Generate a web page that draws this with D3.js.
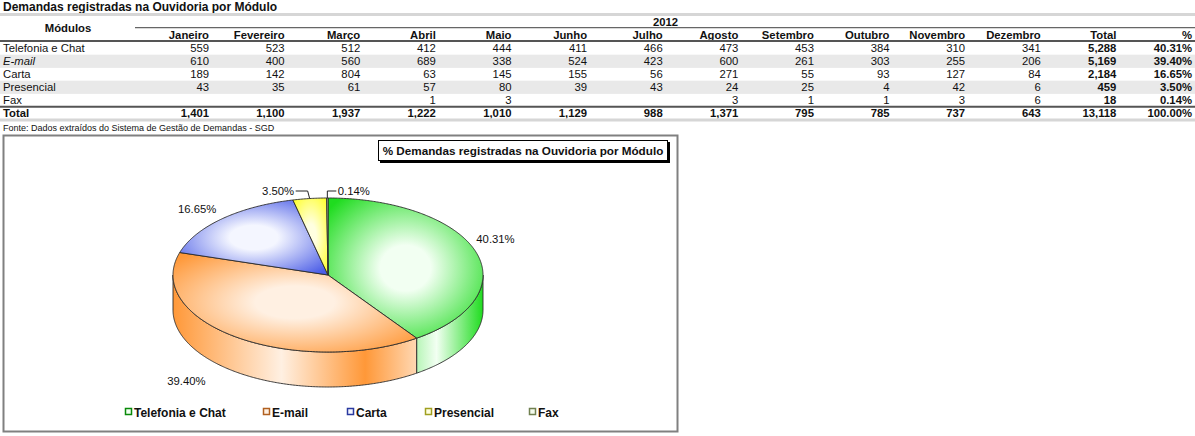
<!DOCTYPE html>
<html><head><meta charset="utf-8">
<script src="https://cdn.jsdelivr.net/npm/d3@7"></script>
<style>body{margin:0;background:#fff;overflow:hidden} text{font-family:"Liberation Sans",Arial,sans-serif;fill:#111}</style>
</head><body><svg id="c" width="1195" height="436"></svg>
<script>
// ---------- DATA ----------
const tableTitle = "Demandas registradas na Ouvidoria por Módulo";
const chartTitle = "% Demandas registradas na Ouvidoria por Módulo";
const sourceNote = "Fonte: Dados extraídos do Sistema de Gestão de Demandas - SGD";
const yearLabel = "2012";
const months = ["Janeiro","Fevereiro","Março","Abril","Maio","Junho","Julho","Agosto","Setembro","Outubro","Novembro","Dezembro"];
const modules = ["Telefonia e Chat","E-mail","Carta","Presencial","Fax"];
const telefonia  = [559,523,512,412,444,411,466,473,453,384,310,341];
const email      = [610,400,560,689,338,524,423,600,261,303,255,206];
const carta      = [189,142,804,63,145,155,56,271,55,93,127,84];
const presencial = [43,35,61,57,80,39,43,24,25,4,42,6];
const fax        = [null,null,null,1,3,null,null,3,1,1,3,6];
const seriesValues = [telefonia,email,carta,presencial,fax];

// ---------- STYLE ----------
const baseCol  = ["#1fdc1f","#ff9838","#4a5ce6","#ffff30","#b8d8a0"];
const lightCol = ["#f2fff2","#fff0e2","#f4f6ff","#ffffe0","#f4fbee"];
const edgeCol  = ["#0a8a0a","#b06020","#2a3aa0","#a0a020","#708050"];
const FS = 11.3;

const svg = d3.select("#c");
const fmt = d3.format(",");
const pctFmt = v => (v*100).toFixed(2) + "%";

// ---------- TABLE ----------
const totals = seriesValues.map(s => d3.sum(s));
const grand = d3.sum(totals);
const monthTotals = months.map((m,i) => d3.sum(seriesValues, s => s[i] || 0));

svg.append("text").attr("x",3).attr("y",10.5).attr("font-size",12).attr("font-weight","bold").text(tableTitle);
svg.append("rect").attr("x",0).attr("y",13).attr("width",1195).attr("height",3).attr("fill","#d6d6d6");

const colX = d3.scaleLinear().domain([0,13]).range([209,1192]);
const rowY = d3.scaleLinear().domain([0,5]).range([48.3,113.3]);

[1,3].forEach(r => svg.append("rect").attr("x",0).attr("width",1195)
  .attr("y",rowY(r)-6.6).attr("height",13.2).attr("fill","#e9e9e9"));

svg.append("text").attr("x",68).attr("y",32).attr("text-anchor","middle")
  .attr("font-size",FS).attr("font-weight","bold").text("Módulos");
svg.append("text").attr("x",(colX(0)+colX(13))/2 - 35).attr("y",25.5).attr("text-anchor","middle")
  .attr("font-size",FS).attr("font-weight","bold").text(yearLabel);
svg.append("line").attr("x1",135).attr("x2",1195).attr("y1",27.6).attr("y2",27.6)
  .attr("stroke","#666").attr("stroke-width",1.4);

const headers = months.concat(["Total","%"]);
svg.selectAll("text.hdr").data(headers).join("text").attr("class","hdr")
  .attr("x",(d,i)=>colX(i)).attr("y",38.8).attr("text-anchor","end")
  .attr("font-size",FS).attr("font-weight","bold").text(d=>d);
svg.append("line").attr("x1",0).attr("x2",1195).attr("y1",41).attr("y2",41)
  .attr("stroke","#555").attr("stroke-width",2);

modules.forEach((m,r) => {
  const y = rowY(r)+4;
  svg.append("text").attr("x",3).attr("y",y).attr("font-size",FS)
    .attr("font-style", m==="E-mail" ? "italic" : "normal").text(m);
  seriesValues[r].forEach((v,i) => {
    if (v==null) return;
    svg.append("text").attr("x",colX(i)).attr("y",y).attr("text-anchor","end").attr("font-size",FS).text(fmt(v));
  });
  svg.append("text").attr("x",colX(12)).attr("y",y).attr("text-anchor","end").attr("font-size",FS).attr("font-weight","bold").text(fmt(totals[r]));
  svg.append("text").attr("x",colX(13)).attr("y",y).attr("text-anchor","end").attr("font-size",FS).attr("font-weight","bold").text(pctFmt(totals[r]/grand));
});
svg.append("line").attr("x1",0).attr("x2",1195).attr("y1",106.8).attr("y2",106.8)
  .attr("stroke","#555").attr("stroke-width",2);
{
  const y = rowY(5)+4;
  svg.append("text").attr("x",3).attr("y",y).attr("font-size",FS).attr("font-weight","bold").text("Total");
  monthTotals.forEach((v,i)=> svg.append("text").attr("x",colX(i)).attr("y",y).attr("text-anchor","end")
    .attr("font-size",FS).attr("font-weight","bold").text(fmt(v)));
  svg.append("text").attr("x",colX(12)).attr("y",y).attr("text-anchor","end").attr("font-size",FS).attr("font-weight","bold").text(fmt(grand));
  svg.append("text").attr("x",colX(13)).attr("y",y).attr("text-anchor","end").attr("font-size",FS).attr("font-weight","bold").text(pctFmt(1));
}
svg.append("rect").attr("x",0).attr("y",118.5).attr("width",1195).attr("height",3).attr("fill","#d6d6d6");
svg.append("text").attr("x",3).attr("y",130.5).attr("font-size",9).text(sourceNote);

// ---------- CHART FRAME ----------
svg.append("rect").attr("x",3.5).attr("y",135.5).attr("width",674).attr("height",296)
  .attr("fill","#fff").attr("stroke","#808080").attr("stroke-width",2);
svg.append("rect").attr("x",380).attr("y",142).attr("width",290).attr("height",21).attr("fill","#000");
svg.append("rect").attr("x",378.5).attr("y",140.5).attr("width",289).attr("height",20).attr("fill","#fff").attr("stroke","#000").attr("stroke-width",1);
svg.append("text").attr("x",523).attr("y",155).attr("text-anchor","middle").attr("font-size",11.7).attr("font-weight","bold").text(chartTitle);

// ---------- 3D PIE ----------
const cx = 328, cy = 275, rx = 155, ry = 77, depth = 35;
const pieData = modules.map((m,i)=>({name:m, value:totals[i], idx:i}));
const arcs = d3.pie().sort(null).value(d=>d.value)(pieData);
const pt = (a,f=1,dy=0) => [cx + f*rx*Math.sin(a), cy - f*ry*Math.cos(a) + dy];
const arcPts = (a0,a1,dy=0) => { const n = Math.max(2, Math.ceil(Math.abs(a1-a0)/0.01));
  return d3.range(n+1).map(k => pt(a0+(a1-a0)*k/n,1,dy)); };
const line = d3.line();

const defs = svg.append("defs");
arcs.forEach((a,i)=>{
  const g = defs.append("radialGradient").attr("id","top"+i).attr("cx","50%").attr("cy","50%").attr("r","65%");
  g.append("stop").attr("offset","0%").attr("stop-color",lightCol[i]);
  g.append("stop").attr("offset","25%").attr("stop-color",lightCol[i]);
  g.append("stop").attr("offset","100%").attr("stop-color",baseCol[i]);
  const s = defs.append("linearGradient").attr("id","side"+i).attr("gradientUnits","userSpaceOnUse")
    .attr("x1",cx-rx).attr("x2",cx+rx).attr("y1",0).attr("y2",0);
  s.append("stop").attr("offset","0%").attr("stop-color",baseCol[i]);
  s.append("stop").attr("offset","35%").attr("stop-color",lightCol[i]);
  s.append("stop").attr("offset","62%").attr("stop-color",baseCol[i]);
  s.append("stop").attr("offset","85%").attr("stop-color",lightCol[i]);
  s.append("stop").attr("offset","100%").attr("stop-color",baseCol[i]);
});

const gPie = svg.append("g");
arcs.forEach((a,i)=>{
  const s = Math.max(a.startAngle, Math.PI/2), e = Math.min(a.endAngle, 3*Math.PI/2);
  if (s >= e) return;
  const pts = arcPts(s,e,0).concat(arcPts(e,s,depth));
  gPie.append("path").attr("d", line(pts)+"Z").attr("fill","url(#side"+i+")")
    .attr("stroke","#2a2a2a").attr("stroke-width",0.9).attr("stroke-linejoin","round");
});
arcs.forEach((a,i)=>{
  const pts = [[cx,cy]].concat(arcPts(a.startAngle,a.endAngle,0));
  gPie.append("path").attr("d", line(pts)+"Z").attr("fill","url(#top"+i+")")
    .attr("stroke","#2a2a2a").attr("stroke-width",0.9).attr("stroke-linejoin","round");
});

const lblNudge = [[-7,-9],[-34,-2],[-6,0],[0,0],[0,0]];
arcs.forEach((a,i)=>{
  const mid = (a.startAngle+a.endAngle)/2;
  const frac = a.value/grand;
  const txt = pctFmt(frac);
  if (frac > 0.05) {
    const p = pt(mid,1.18, Math.cos(mid)<0 ? depth : 0);
    svg.append("text").attr("x",p[0]+lblNudge[i][0]).attr("y",p[1]+lblNudge[i][1]+4)
      .attr("text-anchor","middle").attr("font-size",11.3).attr("fill","#222").text(txt);
  } else {
    const p = pt(mid,1,0);
    const ey = cy - ry - 7;
    const right = i === arcs.length-1;
    const dir = right ? 1 : -1;
    const hx = right ? p[0] : p[0]-2;
    const ex = hx + dir*(right ? 9 : 12);
    svg.append("path").attr("d", line([p,[hx,ey],[ex,ey]])).attr("fill","none").attr("stroke","#222").attr("stroke-width",1);
    svg.append("text").attr("x",ex+dir*1.5).attr("y",ey+4).attr("text-anchor", right?"start":"end")
      .attr("font-size",11.3).attr("fill","#222").text(txt);
  }
});

// ---------- LEGEND ----------
const legX = d3.scalePoint().domain(modules).range([125,529]);
const legOffsets = [0, 37, 20, -3, 0];
const legendG = svg.append("g");
modules.forEach((m,i)=>{
  const x = legX(m) + legOffsets[i];
  legendG.append("rect").attr("x",x+0.5).attr("y",408.5).attr("width",6).attr("height",6)
    .attr("fill",lightCol[i]).attr("stroke",edgeCol[i]).attr("stroke-width",1.5);
  legendG.append("text").attr("x",x+9).attr("y",416.5).attr("font-size",12).attr("font-weight","bold").text(m);
});
</script></body></html>
